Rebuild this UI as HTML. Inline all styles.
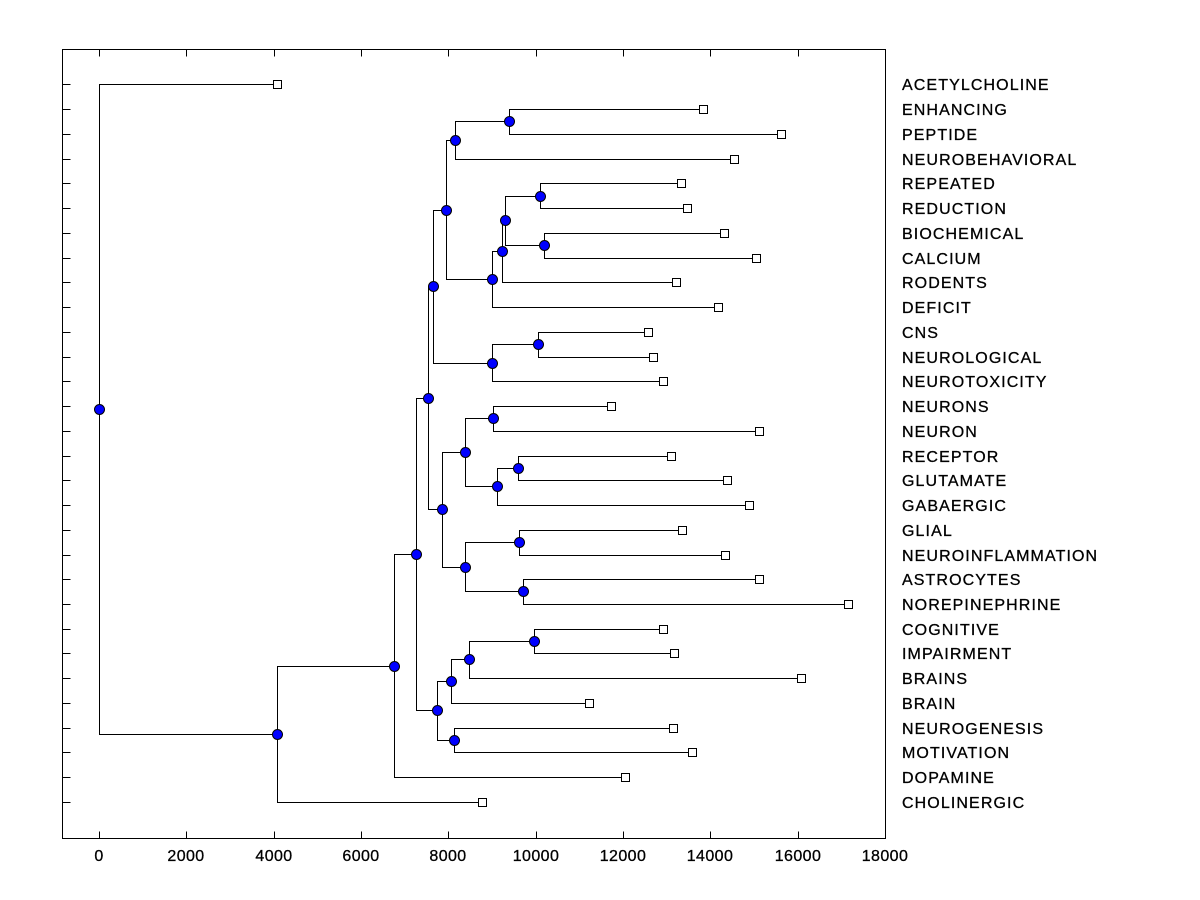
<!DOCTYPE html>
<html><head><meta charset="utf-8"><style>
body{margin:0;background:#fff}
svg{display:block}
text{font-family:"Liberation Sans",Arial,sans-serif;font-size:16px;fill:#000;stroke:#000;stroke-width:0.3px}
.lab text{letter-spacing:1.1px}
.tk text{letter-spacing:0.4px}
</style></head><body>
<svg width="1200" height="900" viewBox="0 0 1200 900">
<g fill="none" stroke="#000" stroke-width="1" shape-rendering="crispEdges" transform="translate(0.5,0.5)">
<rect x="62" y="49" width="823" height="789"/>
<path d="M99 838v-7M186 838v-7M274 838v-7M361 838v-7M448 838v-7M536 838v-7M623 838v-7M710 838v-7M798 838v-7M885 838v-7
M99 49v7M186 49v7M274 49v7M361 49v7M448 49v7M536 49v7M623 49v7M710 49v7M798 49v7"/>
<path d="M62 84h8M62 109h8M62 134h8M62 159h8M62 183h8M62 208h8M62 233h8M62 258h8M62 282h8M62 307h8M62 332h8M62 357h8M62 381h8M62 406h8M62 431h8M62 456h8M62 480h8M62 505h8M62 530h8M62 555h8M62 579h8M62 604h8M62 629h8M62 653h8M62 678h8M62 703h8M62 728h8M62 752h8M62 777h8M62 802h8"/>
<path d="M703 109 H509 V134 H781
M509 121 H455 V159 H734
M681 183 H540 V208 H687
M724 233 H544 V258 H756
M540 196 H505 V245 H544
M505 220 H502 V282 H676
M502 251 H492 V307 H718
M455 140 H446 V279 H492
M648 332 H538 V357 H653
M538 344 H492 V381 H663
M446 210 H433 V363 H492
M611 406 H493 V431 H759
M671 456 H518 V480 H727
M518 468 H497 V505 H749
M493 418 H465 V486 H497
M682 530 H519 V555 H725
M759 579 H523 V604 H848
M519 542 H465 V591 H523
M465 452 H442 V567 H465
M433 286 H428 V509 H442
M663 629 H534 V653 H674
M534 641 H469 V678 H801
M469 659 H451 V703 H589
M673 728 H454 V752 H692
M451 681 H437 V740 H454
M428 398 H416 V710 H437
M416 554 H394 V777 H625
M394 666 H277 V802 H482
M277 84 H99 V734 H277"/>
<g fill="#fff">
<rect x="273" y="80" width="8" height="8"/><rect x="699" y="105" width="8" height="8"/><rect x="777" y="130" width="8" height="8"/><rect x="730" y="155" width="8" height="8"/><rect x="677" y="179" width="8" height="8"/><rect x="683" y="204" width="8" height="8"/><rect x="720" y="229" width="8" height="8"/><rect x="752" y="254" width="8" height="8"/><rect x="672" y="278" width="8" height="8"/><rect x="714" y="303" width="8" height="8"/><rect x="644" y="328" width="8" height="8"/><rect x="649" y="353" width="8" height="8"/><rect x="659" y="377" width="8" height="8"/><rect x="607" y="402" width="8" height="8"/><rect x="755" y="427" width="8" height="8"/><rect x="667" y="452" width="8" height="8"/><rect x="723" y="476" width="8" height="8"/><rect x="745" y="501" width="8" height="8"/><rect x="678" y="526" width="8" height="8"/><rect x="721" y="551" width="8" height="8"/><rect x="755" y="575" width="8" height="8"/><rect x="844" y="600" width="8" height="8"/><rect x="659" y="625" width="8" height="8"/><rect x="670" y="649" width="8" height="8"/><rect x="797" y="674" width="8" height="8"/><rect x="585" y="699" width="8" height="8"/><rect x="669" y="724" width="8" height="8"/><rect x="688" y="748" width="8" height="8"/><rect x="621" y="773" width="8" height="8"/><rect x="478" y="798" width="8" height="8"/>
</g>
</g>
<g fill="#0000ff" stroke="#000" stroke-width="1">
<circle cx="509.5" cy="121.5" r="5"/><circle cx="455.5" cy="140.5" r="5"/><circle cx="540.5" cy="196.5" r="5"/><circle cx="544.5" cy="245.5" r="5"/><circle cx="505.5" cy="220.5" r="5"/><circle cx="502.5" cy="251.5" r="5"/><circle cx="492.5" cy="279.5" r="5"/><circle cx="446.5" cy="210.5" r="5"/><circle cx="538.5" cy="344.5" r="5"/><circle cx="492.5" cy="363.5" r="5"/><circle cx="433.5" cy="286.5" r="5"/><circle cx="493.5" cy="418.5" r="5"/><circle cx="518.5" cy="468.5" r="5"/><circle cx="497.5" cy="486.5" r="5"/><circle cx="465.5" cy="452.5" r="5"/><circle cx="519.5" cy="542.5" r="5"/><circle cx="523.5" cy="591.5" r="5"/><circle cx="465.5" cy="567.5" r="5"/><circle cx="442.5" cy="509.5" r="5"/><circle cx="428.5" cy="398.5" r="5"/><circle cx="534.5" cy="641.5" r="5"/><circle cx="469.5" cy="659.5" r="5"/><circle cx="451.5" cy="681.5" r="5"/><circle cx="454.5" cy="740.5" r="5"/><circle cx="437.5" cy="710.5" r="5"/><circle cx="416.5" cy="554.5" r="5"/><circle cx="394.5" cy="666.5" r="5"/><circle cx="277.5" cy="734.5" r="5"/><circle cx="99.5" cy="409.5" r="5"/>
</g>
<g class="tk" text-anchor="middle">
<text x="99" y="861">0</text><text x="186" y="861">2000</text><text x="274" y="861">4000</text><text x="361" y="861">6000</text><text x="448" y="861">8000</text><text x="536" y="861">10000</text><text x="623" y="861">12000</text><text x="710" y="861">14000</text><text x="798" y="861">16000</text><text x="885" y="861">18000</text>
</g>
<g class="lab">
<text x="902" y="90">ACETYLCHOLINE</text><text x="902" y="115">ENHANCING</text><text x="902" y="140">PEPTIDE</text><text x="902" y="165">NEUROBEHAVIORAL</text><text x="902" y="189">REPEATED</text><text x="902" y="214">REDUCTION</text><text x="902" y="239">BIOCHEMICAL</text><text x="902" y="264">CALCIUM</text><text x="902" y="288">RODENTS</text><text x="902" y="313">DEFICIT</text><text x="902" y="338">CNS</text><text x="902" y="363">NEUROLOGICAL</text><text x="902" y="387">NEUROTOXICITY</text><text x="902" y="412">NEURONS</text><text x="902" y="437">NEURON</text><text x="902" y="462">RECEPTOR</text><text x="902" y="486">GLUTAMATE</text><text x="902" y="511">GABAERGIC</text><text x="902" y="536">GLIAL</text><text x="902" y="561">NEUROINFLAMMATION</text><text x="902" y="585">ASTROCYTES</text><text x="902" y="610">NOREPINEPHRINE</text><text x="902" y="635">COGNITIVE</text><text x="902" y="659">IMPAIRMENT</text><text x="902" y="684">BRAINS</text><text x="902" y="709">BRAIN</text><text x="902" y="734">NEUROGENESIS</text><text x="902" y="758">MOTIVATION</text><text x="902" y="783">DOPAMINE</text><text x="902" y="808">CHOLINERGIC</text>
</g>
</svg>
</body></html>
